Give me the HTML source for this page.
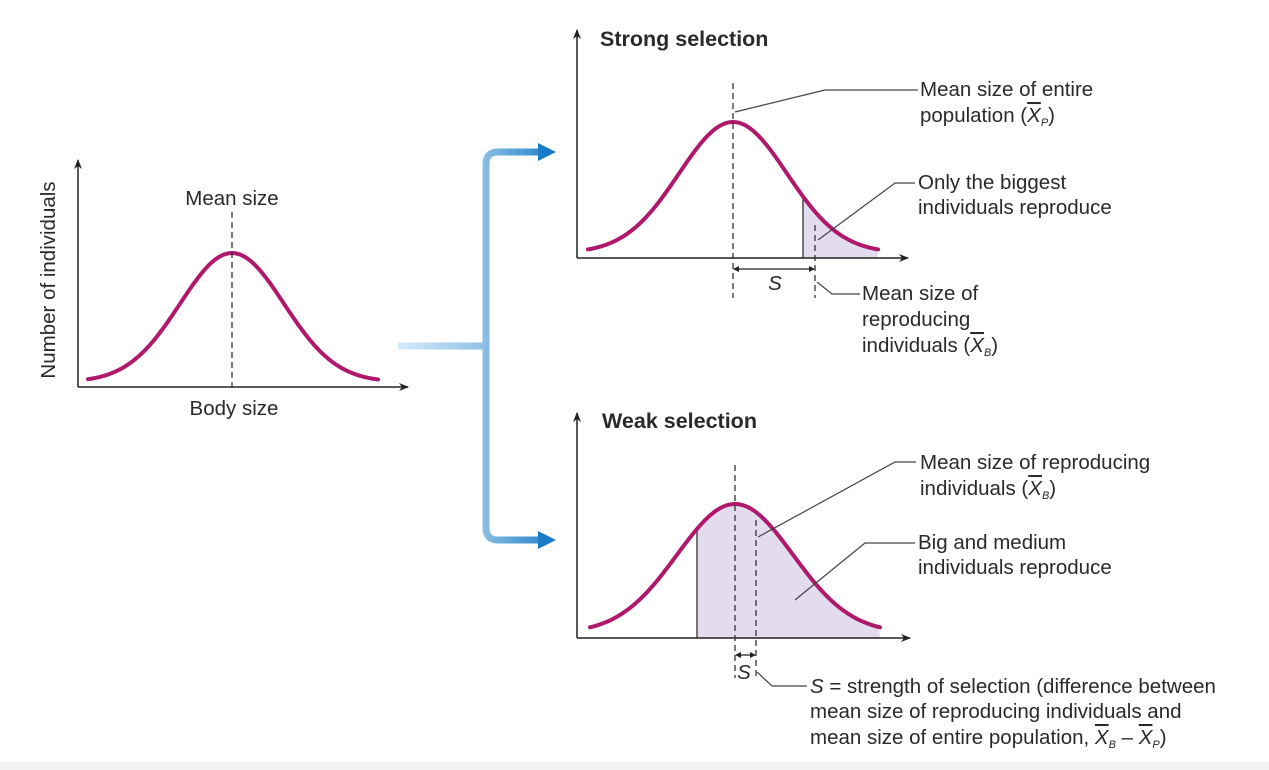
<!DOCTYPE html>
<html><head><meta charset="utf-8"><style>
html,body{margin:0;padding:0;background:#fff}
svg{display:block}
text{font-family:"Liberation Sans",sans-serif;fill:#2a2a2a;font-size:20.5px}
.t{font-weight:bold;font-size:21.5px}
</style></head><body>
<svg width="1269" height="770" viewBox="0 0 1269 770">
<defs>
<marker id="ah" markerWidth="10" markerHeight="10" refX="9" refY="5" orient="auto" markerUnits="userSpaceOnUse"><path d="M0,1 L10,5 L0,9 L3,5 Z" fill="#222"/></marker>
<marker id="sa" markerWidth="6" markerHeight="6" refX="5" refY="3" orient="auto-start-reverse" markerUnits="userSpaceOnUse"><path d="M0,0 L6,3 L0,6 Z" fill="#222"/></marker>
<linearGradient id="bh" gradientUnits="userSpaceOnUse" x1="398" y1="0" x2="486" y2="0"><stop offset="0" stop-color="#d6ebf9"/><stop offset="1" stop-color="#8cc0e6"/></linearGradient>
<linearGradient id="bv" gradientUnits="userSpaceOnUse" x1="482" y1="0" x2="556" y2="0"><stop offset="0" stop-color="#8cc0e6"/><stop offset="1" stop-color="#1a7cc6"/></linearGradient>
</defs>
<rect x="0" y="762" width="1269" height="8" fill="#f2f2f2"/>
<g id="root"></g>
<g>
<rect x="398" y="342.5" width="88" height="7" fill="url(#bh)"/>
<path d="M540,152 L498,152 Q486,152 486,164 L486,528 Q486,540 498,540 L540,540" fill="none" stroke="url(#bv)" stroke-width="7"/>
<path d="M538,143 L556,152 L538,161 Z" fill="#1a7cc6"/>
<path d="M538,531 L556,540 L538,549 Z" fill="#1a7cc6"/>
</g>
<text x="55" y="280" text-anchor="middle" transform="rotate(-90 55 280)">Number of individuals</text>
<text x="232" y="205" text-anchor="middle">Mean size</text>
<text x="234" y="415" text-anchor="middle">Body size</text>
<text x="600" y="46" class="t">Strong selection</text>
<text x="602" y="428" class="t">Weak selection</text>
<g>
<text x="920" y="96">Mean size of entire</text>
<text x="920" y="122">population (<tspan font-style="italic" text-decoration="overline">X</tspan><tspan font-size="11" font-style="italic" dy="4">P</tspan><tspan dy="-4">)</tspan></text>
<polyline points="735,112 825,90 918,90" fill="none" stroke="#444" stroke-width="1.2"/></g>
<g>
<text x="918" y="189">Only the biggest</text>
<text x="918" y="214">individuals reproduce</text>
<polyline points="818,240 895,183 915,183" fill="none" stroke="#444" stroke-width="1.2"/></g>
<g>
<text x="862" y="300">Mean size of</text>
<text x="862" y="326">reproducing</text>
<text x="862" y="352">individuals (<tspan font-style="italic" text-decoration="overline">X</tspan><tspan font-size="11" font-style="italic" dy="4">B</tspan><tspan dy="-4">)</tspan></text>
<polyline points="817,282 832,294 860,294" fill="none" stroke="#444" stroke-width="1.2"/></g>
<text x="775" y="290" font-style="italic" text-anchor="middle">S</text>
<g>
<text x="920" y="469">Mean size of reproducing</text>
<text x="920" y="495">individuals (<tspan font-style="italic" text-decoration="overline">X</tspan><tspan font-size="11" font-style="italic" dy="4">B</tspan><tspan dy="-4">)</tspan></text>
<polyline points="758,537 895,462 916,462" fill="none" stroke="#444" stroke-width="1.2"/></g>
<g>
<text x="918" y="549">Big and medium</text>
<text x="918" y="574">individuals reproduce</text>
<polyline points="795,600 865,543 915,543" fill="none" stroke="#444" stroke-width="1.2"/></g>
<text x="744" y="679" font-style="italic" text-anchor="middle">S</text>
<g>
<text x="810" y="693"><tspan font-style="italic">S</tspan> = strength of selection (difference between</text>
<text x="810" y="718">mean size of reproducing individuals and</text>
<text x="810" y="744">mean size of entire population, <tspan font-style="italic" text-decoration="overline">X</tspan><tspan font-size="11" font-style="italic" dy="4">B</tspan><tspan dy="-4"> – </tspan><tspan font-style="italic" text-decoration="overline">X</tspan><tspan font-size="11" font-style="italic" dy="4">P</tspan><tspan dy="-4">)</tspan></text>
<polyline points="757,672 772,686 807,686" fill="none" stroke="#444" stroke-width="1.2"/></g>
</svg>
<script>
const panelNames = ["base", "strong", "weak"];
const panelMeans = [232, 733, 735];
const panelSds = [52, 54, 58];
const panelPeaks = [132, 134, 132];
const panelStarts = [88, 588, 590];
const panelEnds = [378, 878, 880];
const panelCutoffs = [null, 803, 697];
const panelRepMeans = [null, 815, 756];
const panelOrigins = [[78,387],[577,258],[577,638]];
const panelTops = [160, 30, 413];
const panelRights = [408, 908, 910];
const NS = "http://www.w3.org/2000/svg";
const root = document.getElementById("root");
function mk(tag, attrs, parent){const e=document.createElementNS(NS,tag);for(const k in attrs)e.setAttribute(k,attrs[k]);(parent||root).appendChild(e);return e;}
function yAt(i,x){const m=panelMeans[i],s=panelSds[i];return panelOrigins[i][1]-5-(panelPeaks[i]-3)*Math.exp(-((x-m)*(x-m))/(2*s*s));}
panelNames.forEach((n,i)=>{
  const g=mk("g",{});
  
  
  const [ox,oy]=panelOrigins[i];
  const c=panelCutoffs[i];
  if(c!==null){
    let d="M"+c+","+oy;
    for(let x=c;x<=panelEnds[i];x+=2)d+=" L"+x+","+yAt(i,x).toFixed(1);
    d+=" L"+panelEnds[i]+","+oy+" Z";
    const sh=mk("path",{d:d,fill:"#e2dcee"},g);
    
    
    const cl=mk("line",{x1:c,y1:oy,x2:c,y2:yAt(i,c),stroke:"#333","stroke-width":1.3},g);
    
    
  }
  const ya=mk("line",{x1:ox,y1:oy,x2:ox,y2:panelTops[i],stroke:"#222","stroke-width":1.5,"marker-end":"url(#ah)"},g);
  
  
  const xa=mk("line",{x1:ox,y1:oy,x2:panelRights[i],y2:oy,stroke:"#222","stroke-width":1.5,"marker-end":"url(#ah)"},g);
  
  
  let d="";
  for(let x=panelStarts[i];x<=panelEnds[i];x+=2)d+=(d?" L":"M")+x+","+yAt(i,x).toFixed(1);
  const cv=mk("path",{d:d,fill:"none",stroke:"#b0186c","stroke-width":4,"stroke-linecap":"round"},g);
  
  
  const m=panelMeans[i];
  const topDash = i===0?212:(i===1?83:465);
  const botDash = i===0?oy:oy+40;
  const md=mk("line",{x1:m,y1:topDash,x2:m,y2:botDash,stroke:"#333","stroke-width":1.3,"stroke-dasharray":"6,4"},g);
  
  
  const r=panelRepMeans[i];
  if(r!==null){
    const rd=mk("line",{x1:r,y1:i===1?225:520,x2:r,y2:oy+40,stroke:"#333","stroke-width":1.3,"stroke-dasharray":"6,4"},g);
    
    
    const sy=oy+(i===1?11:17);
    const sa=mk("line",{x1:m+1,y1:sy,x2:r-1,y2:sy,stroke:"#222","stroke-width":1.2,"marker-start":"url(#sa)","marker-end":"url(#sa)"},g);
    
    
  }
});
</script>
</body></html>
